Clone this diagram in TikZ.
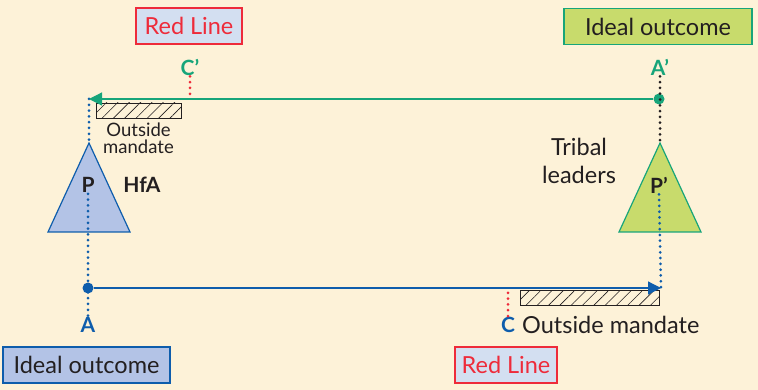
\documentclass[tikz,border=0pt]{standalone}
\usepackage{fontspec}
\setmainfont{Lato}
\usetikzlibrary{arrows.meta,positioning,patterns.meta}
\definecolor{bgcream}{HTML}{FDF2D8}
\definecolor{hblue}{HTML}{0E5DAC}
\definecolor{hbluefill}{HTML}{B3C3E6}
\definecolor{tgreen}{HTML}{17A57A}
\definecolor{tgreenfill}{HTML}{C8DB6C}
\definecolor{lred}{HTML}{EE2B3A}
\definecolor{lbox}{HTML}{D3DFF1}
\definecolor{ink}{HTML}{231F20}

\begin{document}
\begin{tikzpicture}[
  x=1pt, y=-1pt,
  outcome/.style={draw, rectangle, line width=1.2pt, minimum height=36pt, align=center, text=ink, font=\fontsize{23.5}{26}\selectfont},
  redline/.style={draw=lred, fill=lbox, rectangle, line width=1.2pt, minimum height=36pt, text=lred, font=\fontsize{23.5}{26}\selectfont},
  letter/.style={inner sep=1pt, font=\fontsize{21}{24}\selectfont\bfseries},
  note/.style={align=center, text=ink, font=\fontsize{23.5}{28}\selectfont},
  dot/.style={circle, inner sep=0pt, minimum size=11pt},
  hatch/.style={draw=ink, rectangle, inner sep=0pt, line width=0.6pt, pattern={Lines[angle=45,distance=8pt,line width=0.6pt]}, pattern color=ink},
  move/.style={-{Triangle[length=13pt,width=13pt]}, line width=1.2pt},
  dots/.style={line width=3pt, line cap=round, dash pattern=on 0pt off 5.8pt}
]
  \useasboundingbox[fill=bgcream] (0,0) rectangle (758,390);

  % Nodes
  \node[redline, minimum width=106pt] (redtop) at (189,26) {Red Line};
  \node[outcome, draw=tgreen, fill=tgreenfill, minimum width=188pt] (idealtop) at (658,26.5) {Ideal outcome};
  \node[outcome, draw=hblue, fill=hbluefill, minimum width=167pt] (idealbot) at (86.5,365) {Ideal outcome};
  \node[redline, minimum width=102pt] (redbot) at (506,365) {Red Line};

  \node[letter, text=tgreen] (cprime) at (190,67) {C’};
  \node[letter, text=tgreen] (aprime) at (660,67) {A’};
  \node[dot, fill=tgreen] (adotp) at (659,99) {};
  \coordinate (ctip) at (89,99);

  \node[letter, text=hblue] (alab) at (88,325) {A};
  \node[letter, text=hblue] (clab) at (508,325) {C};
  \node[dot, fill=hblue] (adot) at (88,288) {};
  \coordinate (atip) at (661,288);

  % Triangles
  \draw[draw=hblue, fill=hbluefill, line width=1.2pt] (89,143) coordinate (papex) -- (48,232) -- (130,232) -- cycle;
  \draw[draw=tgreen, fill=tgreenfill, line width=1.2pt] (660,143) coordinate (ppapex) -- (619,232) -- (701,232) -- cycle;
  \node[letter, text=ink] (plab) at (88,185) {P};
  \node[letter, text=ink] (pplab) at (659,185) {P’};
  \node[letter, text=ink] (hfa) at (142,185) {HfA};
  \node[note] (tribal) at (579,161) {Tribal\\leaders};

  % Hatched zones
  \node[hatch, minimum width=85pt, minimum height=15pt] (zonetop) at (138.5,110.5) {};
  \node[note, font=\fontsize{18.5}{17.5}\selectfont, below=1pt of zonetop] (mandtop) {Outside\\mandate};
  \node[hatch, minimum width=139pt, minimum height=15pt] (zonebot) at (589.5,297.5) {};
  \node[note, anchor=west, inner xsep=1pt] (mandbot) at (521,325) {Outside mandate};

  % Dotted guides
  \draw[dots, hblue] (ctip) -- (papex);
  \draw[dots, hblue] (plab.south) -- (alab.north);
  \draw[dots, ink] (aprime.south) -- (ppapex);
  \draw[dots, hblue] (pplab.south) -- (atip);
  \draw[dots, lred] (cprime.south) -- (cprime.south |- ctip);
  \draw[dots, lred] (clab.north) -- (clab.north |- adot);

  % Arrows
  \draw[move, tgreen] (adotp) -- (ctip);
  \draw[move, hblue] (adot) -- (atip);
\end{tikzpicture}
\end{document}
